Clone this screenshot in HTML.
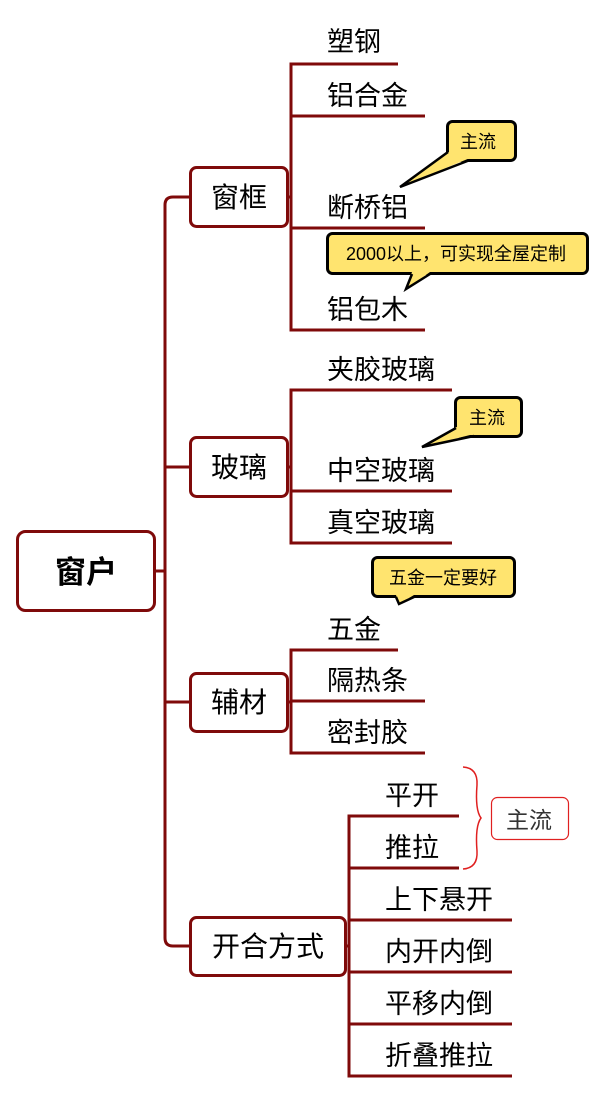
<!DOCTYPE html>
<html><head><meta charset="utf-8"><style>
html,body{margin:0;padding:0;background:#fff;}
svg{display:block;}
text{font-family:"Liberation Sans","Noto Sans CJK SC",sans-serif;}
</style></head><body>
<svg width="605" height="1093" viewBox="0 0 605 1093" xmlns="http://www.w3.org/2000/svg">
<g fill="none" stroke="#7f0a0a" stroke-width="3">
  <line x1="155" y1="571" x2="165" y2="571"/>
  <path d="M190 197 H173 Q165 197 165 205 V938 Q165 946 173 946 H190"/>
  <line x1="165" y1="467" x2="190" y2="467"/>
  <line x1="165" y1="702" x2="190" y2="702"/>
  <line x1="288" y1="197" x2="291" y2="197"/>
  <path d="M398 64 H291 V330 H425"/>
  <line x1="291" y1="116" x2="425" y2="116"/>
  <line x1="291" y1="228" x2="425" y2="228"/>
  <line x1="288" y1="467" x2="291" y2="467"/>
  <path d="M452 390 H291 V543 H452"/>
  <line x1="291" y1="491" x2="452" y2="491"/>
  <line x1="288" y1="702" x2="291" y2="702"/>
  <path d="M398 650 H291 V753 H425"/>
  <line x1="291" y1="701" x2="425" y2="701"/>
  <line x1="346" y1="946" x2="349" y2="946"/>
  <path d="M459 816 H349 V1076 H512"/>
  <line x1="349" y1="868" x2="459" y2="868"/>
  <line x1="349" y1="920" x2="512" y2="920"/>
  <line x1="349" y1="972" x2="512" y2="972"/>
  <line x1="349" y1="1024" x2="512" y2="1024"/>
</g>
<g fill="#fff" stroke="#7f0a0a" stroke-width="3">
  <rect x="17.5" y="531.5" width="137" height="79" rx="8"/>
  <rect x="190.5" y="167.5" width="97" height="59" rx="6"/>
  <rect x="190.5" y="437.5" width="97" height="59" rx="6"/>
  <rect x="190.5" y="673.5" width="97" height="58" rx="6"/>
  <rect x="190.5" y="917.5" width="155" height="58" rx="6"/>
</g>
<text x="86" y="583" font-size="31" font-weight="bold" text-anchor="middle">窗户</text>
<g font-size="28" fill="#000">
  <text x="239" y="207" text-anchor="middle">窗框</text>
  <text x="239" y="477" text-anchor="middle">玻璃</text>
  <text x="239" y="712" text-anchor="middle">辅材</text>
  <text x="268" y="956" text-anchor="middle">开合方式</text>
</g>
<g font-size="27" fill="#000">
  <text x="327" y="51">塑钢</text>
  <text x="327" y="105">铝合金</text>
  <text x="327" y="217">断桥铝</text>
  <text x="327" y="319">铝包木</text>
  <text x="327" y="379">夹胶玻璃</text>
  <text x="327" y="480">中空玻璃</text>
  <text x="327" y="532">真空玻璃</text>
  <text x="327" y="639">五金</text>
  <text x="327" y="690">隔热条</text>
  <text x="327" y="742">密封胶</text>
  <text x="385" y="805">平开</text>
  <text x="385" y="857">推拉</text>
  <text x="385" y="909">上下悬开</text>
  <text x="385" y="961">内开内倒</text>
  <text x="385" y="1013">平移内倒</text>
  <text x="385" y="1065">折叠推拉</text>
</g>
<g stroke="#000" stroke-width="3" fill="#ffe46f">
  <rect x="447.5" y="121.5" width="68" height="39" rx="5"/>
  <rect x="327.5" y="233.5" width="260" height="40" rx="5"/>
  <rect x="455.5" y="397.5" width="66" height="39" rx="5"/>
  <rect x="372.5" y="557.5" width="142" height="39" rx="5"/>
</g>
<g fill="#ffe46f" stroke="none">
  <polygon points="448,152 470,158 400,187"/>
  <polygon points="412,272 430,272 406,289"/>
  <polygon points="456,427 474,434 422,447"/>
  <polygon points="396,595 414,595 399,604"/>
</g>
<g fill="none" stroke="#000" stroke-width="2.5">
  <polyline points="448,152 400,187 470,160"/>
  <polyline points="412,274 406,289 430,274"/>
  <polyline points="456,428 422,447 474,436"/>
  <polyline points="396,597 399,604 414,597"/>
</g>
<g font-size="18" fill="#000" text-anchor="middle">
  <text x="478" y="148">主流</text>
  <text x="456" y="260">2000以上，可实现全屋定制</text>
  <text x="487" y="424">主流</text>
  <text x="443" y="584">五金一定要好</text>
</g>
<path d="M463 767 Q478 768 477 785 Q475 810 481 818 Q475 826 477 851 Q478 868 463 869" fill="none" stroke="#e02020" stroke-width="1.5"/>
<rect x="491.5" y="797.5" width="77" height="42" rx="6" fill="#fff" stroke="#e02020" stroke-width="1.2"/>
<text x="529" y="828" font-size="23" fill="#333" text-anchor="middle">主流</text>
</svg>
</body></html>
